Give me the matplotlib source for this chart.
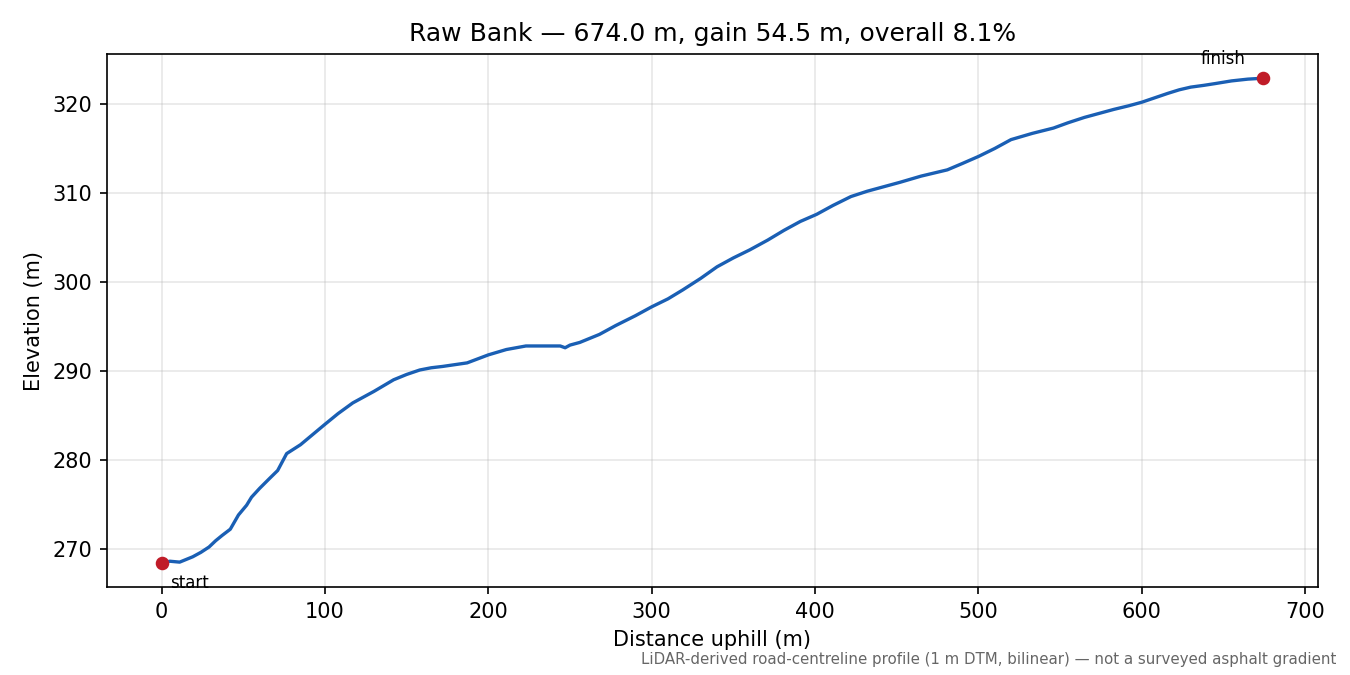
import numpy as np
import matplotlib
matplotlib.use("Agg")
import matplotlib.pyplot as plt

# profile
distance = [0, 5, 11, 19, 24, 29, 33, 37, 42, 47, 52, 55, 60, 66, 71, 76.5, 85,
            100, 108, 117, 130, 142, 150, 158, 165, 172, 187, 200, 211, 223, 236,
            244, 247, 250, 256, 268, 278, 290, 300, 310, 319, 330, 340, 350, 360,
            371, 381, 391, 401, 411, 422, 432, 442, 452, 465, 481, 490, 500, 510,
            520, 533, 546, 555, 565, 575, 583, 592, 600, 608, 616, 623, 630, 638,
            645, 655, 665, 674]
elevation = [268.4, 268.6, 268.5, 269.1, 269.6, 270.2, 270.9, 271.5, 272.2, 273.8,
             274.9, 275.8, 276.8, 277.9, 278.8, 280.7, 281.7,
             284.0, 285.2, 286.4, 287.7, 289.0, 289.6, 290.1, 290.35, 290.5, 290.9,
             291.8, 292.4, 292.8, 292.8,
             292.8, 292.6, 292.9, 293.2, 294.1, 295.1, 296.2, 297.2, 298.1, 299.1,
             300.4, 301.7, 302.7, 303.6, 304.7, 305.8, 306.8, 307.6, 308.6, 309.6,
             310.2, 310.7, 311.2, 311.9, 312.6, 313.3, 314.1, 315.0, 316.0, 316.7,
             317.3, 317.9, 318.5, 319.0, 319.4, 319.8, 320.2, 320.7, 321.2, 321.6,
             321.9, 322.1, 322.3, 322.6, 322.8, 322.9]

total_len = 674.0
gain = 54.5
overall = 8.1

fig, ax = plt.subplots(figsize=(9, 4.5), dpi=150)
fig.subplots_adjust(left=0.079, right=0.976, top=0.92, bottom=0.13)

ax.plot(distance, elevation, color="#1a5fb4", lw=1.6)
ax.plot([distance[0], distance[-1]], [elevation[0], elevation[-1]], "o",
        color="#c01c28", ms=5.5, zorder=3)

ax.annotate("start", (distance[0], elevation[0]), xytext=(4, -5.5),
            textcoords="offset points", ha="left", va="top", fontsize=8)
ax.annotate("finish", (distance[-1], elevation[-1]), xytext=(-8, 5),
            textcoords="offset points", ha="right", va="bottom", fontsize=8)

ax.set_title(f"Raw Bank — {total_len:.1f} m, gain {gain} m, overall {overall}%")
ax.set_xlabel("Distance uphill (m)")
ax.set_ylabel("Elevation (m)")
ax.grid(True, alpha=0.3)

fig.text(0.99, 0.012,
         "LiDAR-derived road-centreline profile (1 m DTM, bilinear) — not a surveyed asphalt gradient",
         ha="right", va="bottom", fontsize=7.2, color="#666666")

fig.savefig("out.png", dpi=150)
